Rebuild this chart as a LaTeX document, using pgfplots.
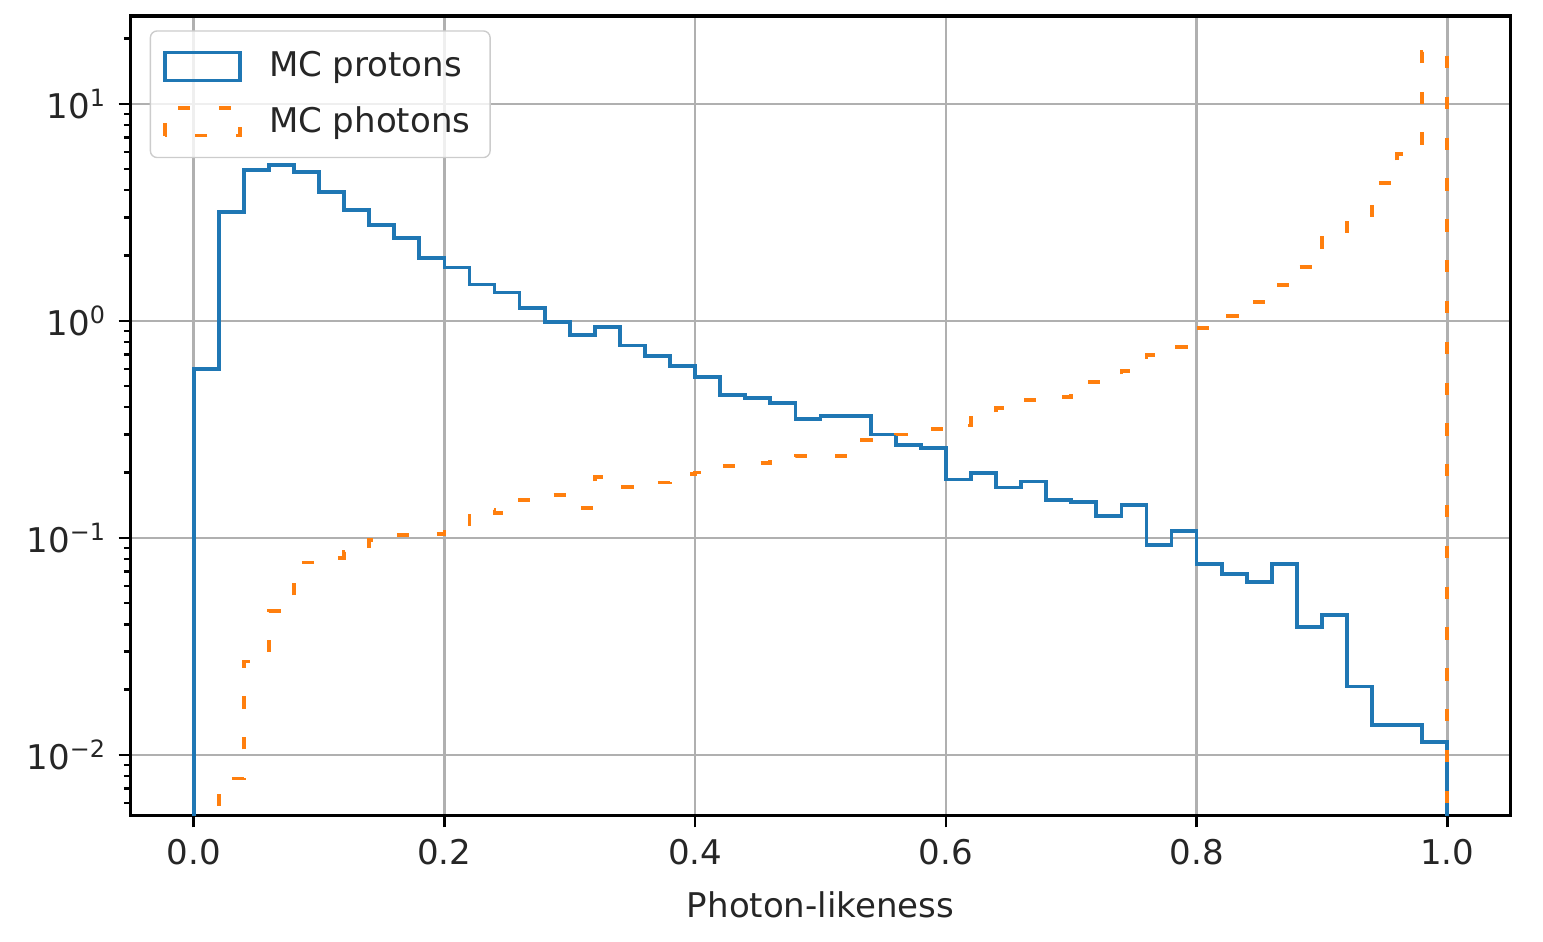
\documentclass[border=0pt]{standalone}
\usepackage{fontspec}
\setmainfont{DejaVu Sans}
\usepackage{pgfplots}
\pgfplotsset{compat=1.18}
\definecolor{c0}{HTML}{1F77B4}
\definecolor{c1}{HTML}{FF7F0E}
\definecolor{gridc}{HTML}{B0B0B0}
\begin{document}
\begin{tikzpicture}
\begin{axis}[
  name=ax,
  scale only axis, width=405.4pt, height=234.9pt,
  xmin=-0.05, xmax=1.05,
  ymode=log, ymin=0.00529, ymax=25.4,
  xtick={0,0.2,0.4,0.6,0.8,1.0},
  xticklabels={0.0,0.2,0.4,0.6,0.8,1.0},
  ytick={0.01,0.1,1,10},
  yticklabels={10\textsuperscript{−2},10\textsuperscript{−1},10\textsuperscript{0},10\textsuperscript{1}},
  minor ytick={0.006,0.007,0.008,0.009,0.02,0.03,0.04,0.05,0.06,0.07,0.08,0.09,0.2,0.3,0.4,0.5,0.6,0.7,0.8,0.9,2,3,4,5,6,7,8,9,20},
  minor xtick={},
  xtick pos=bottom, ytick pos=left,
  tick align=outside,
  major tick length=3.6pt, minor tick length=2.1pt,
  every tick/.style={black, line width=0.7pt},
  grid=major,
  major grid style={gridc, line width=0.7pt},
  minor grid style={draw=none},
  axis line style={black, line width=0.9pt},
  tick label style={font=\fontsize{10}{12}\selectfont, text=black!85},
  xlabel={Photon-likeness},
  xlabel style={font=\fontsize{10}{12}\selectfont, text=black!85, yshift=-1pt},
  legend style={at={(0,1)}, anchor=north west, xshift=5.5pt, yshift=-4.2pt,
    draw=black!20, rounded corners=2pt, fill=white, fill opacity=0.8, text opacity=1,
    font=\fontsize{10}{12}\selectfont, text=black!85,
    inner xsep=3.8pt, inner ysep=4pt, row sep=3.2pt,
    /tikz/every odd column/.append style={column sep=6pt}},
  legend cell align=left,
  legend image code/.code={\draw[#1, sharp corners] (0pt,-4.1pt) rectangle (22pt,4.1pt);},
]
\addplot[const plot mark left, c0, line width=1.1pt] coordinates {
(0.00,0.0001) (0.00,0.60) (0.02,3.18) (0.04,4.96) (0.06,5.23) (0.08,4.87)
(0.10,3.93) (0.12,3.25) (0.14,2.77) (0.16,2.41) (0.18,1.95)
(0.20,1.76) (0.22,1.47) (0.24,1.35) (0.26,1.15) (0.28,0.99)
(0.30,0.86) (0.32,0.94) (0.34,0.77) (0.36,0.69) (0.38,0.62)
(0.40,0.55) (0.42,0.456) (0.44,0.443) (0.46,0.418) (0.48,0.352)
(0.50,0.366) (0.52,0.366) (0.54,0.30) (0.56,0.268) (0.58,0.259)
(0.60,0.186) (0.62,0.199) (0.64,0.171) (0.66,0.182) (0.68,0.150)
(0.70,0.146) (0.72,0.126) (0.74,0.142) (0.76,0.093) (0.78,0.108)
(0.80,0.076) (0.82,0.068) (0.84,0.0625) (0.86,0.076) (0.88,0.039)
(0.90,0.044) (0.92,0.0207) (0.94,0.0137) (0.96,0.0137) (0.98,0.01146)
(1.00,0.01146) (1.00,0.0001)
};
\addlegendentry{MC protons}
\addplot[const plot mark left, c1, line width=1.1pt, dash pattern=on 3.6pt off 8.4pt] coordinates {
(0.00,0.0001) (0.00,0.004) (0.02,0.0078) (0.04,0.027) (0.06,0.046) (0.08,0.077)
(0.10,0.081) (0.12,0.086) (0.14,0.098) (0.16,0.103) (0.18,0.104)
(0.20,0.112) (0.22,0.135) (0.24,0.130) (0.26,0.150) (0.28,0.158)
(0.30,0.137) (0.32,0.191) (0.34,0.172) (0.36,0.180) (0.38,0.197)
(0.40,0.200) (0.42,0.215) (0.44,0.222) (0.46,0.225) (0.48,0.239)
(0.50,0.239) (0.52,0.283) (0.54,0.292) (0.56,0.300) (0.58,0.318)
(0.60,0.330) (0.62,0.357) (0.64,0.397) (0.66,0.433) (0.68,0.446)
(0.70,0.524) (0.72,0.524) (0.74,0.589) (0.76,0.697) (0.78,0.76)
(0.80,0.93) (0.82,1.05) (0.84,1.22) (0.86,1.46) (0.88,1.77)
(0.90,2.41) (0.92,3.08) (0.94,4.32) (0.96,5.88) (0.98,17.4)
(1.00,17.4) (1.00,0.0001)
};
\addlegendentry{MC photons}
\end{axis}
\pgfresetboundingbox
\path[use as bounding box] ([xshift=-38.5pt,yshift=-37.3pt]ax.south west) rectangle ([xshift=9.7pt,yshift=4.7pt]ax.north east);
\end{tikzpicture}
\end{document}
